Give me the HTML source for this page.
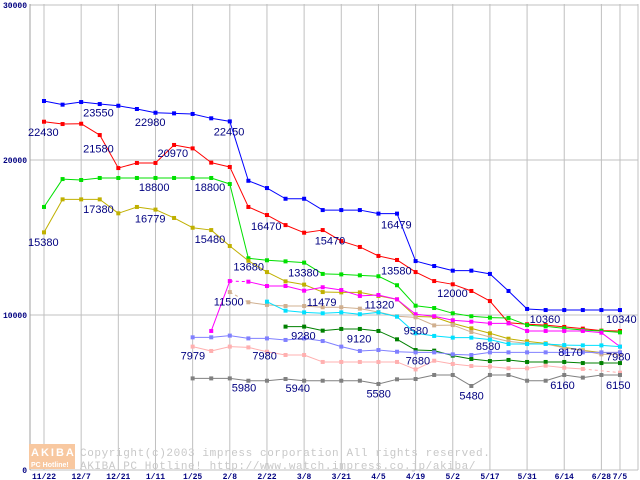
<!DOCTYPE html>
<html><head><meta charset="utf-8"><style>
html,body{margin:0;padding:0;background:#fff;}
svg{display:block;}
</style></head><body>
<svg id="chart" width="640" height="480" xmlns="http://www.w3.org/2000/svg" font-family="Liberation Sans, sans-serif">
<g id="grid"></g>
<g id="wm">
 <rect x="29" y="444" width="46" height="25" fill="#f8c8a0"/>
 <text x="31" y="456" font-size="11" font-weight="bold" fill="#fff" letter-spacing="2">AKIBA</text>
 <text x="31" y="467" font-size="7" font-weight="bold" fill="#fff">PC Hotline!</text>
 <text x="80" y="456" font-size="11" font-family="Liberation Mono, monospace" fill="#c8c8c8" letter-spacing="0.6">Copyright(c)2003 impress corporation All rights reserved.</text>
 <text x="80" y="469" font-size="11" font-family="Liberation Mono, monospace" fill="#c8c8c8" letter-spacing="0.6">AKIBA PC Hotline!  http://www.watch.impress.co.jp/akiba/</text>
</g>
<g id="series"></g>
<g id="labels"></g>
<g id="axes"></g>
</svg>
<script>
const categories = ["11/22","","12/7","","12/21","","1/11","","1/25","","2/8","","2/22","","3/8","","3/21","","4/5","","4/19","","5/2","","5/17","","5/31","","6/14","","6/28","7/5"];
const yTicks = [0,10000,20000,30000];
const N = null;
const blueVals = [23806,23570,23740,23610,23500,23290,23050,23010,22970,22690,22490,18660,18190,17500,17500,16770,16770,16770,16540,16540,13480,13160,12860,12860,12650,11550,10390,10320,10320,10320,10320,10320];
const redVals = [22470,22320,22340,21610,19480,19810,19810,20970,20750,19830,19550,16970,16450,15800,15310,15480,14770,14390,13810,13550,12770,12190,11980,11550,10900,9500,9400,9350,9230,9120,8990,8970];
const greenVals = [16970,18770,18710,18840,18840,18840,18840,18840,18840,18840,18450,13660,13530,13460,13380,12650,12620,12560,12500,11920,10600,10450,10110,9920,9830,9810,9350,9270,9140,9030,8970,8880];
const oliveVals = [15330,17460,17460,17460,16560,16970,16800,16260,15630,15480,14450,13500,12770,12170,11960,11480,11460,11460,11230,11010,9900,9870,9460,9140,8820,8470,8300,8170,7920,7720,7570,7590];
const magentaVals = [N,N,N,N,N,N,N,N,N,8970,12190,12150,11870,11870,11570,11790,11610,11230,11290,11010,10050,9920,9660,9570,9460,9460,8970,8970,8970,8970,8860,7960];
const tanVals = [N,N,N,N,N,N,N,N,N,N,11480,10820,10650,10580,10580,10500,10500,10410,10190,9920,9850,9330,9350,8900,8580,8300,8170,8130,7890,7700,7460,7460];
const cyanVals = [N,N,N,N,N,N,N,N,N,N,N,N,10860,10280,10170,10110,10170,10050,10170,9890,8820,8650,8540,8540,8410,8130,8130,8130,8060,8040,8040,7960];
const darkGreenVals = [N,N,N,N,N,N,N,N,N,N,N,N,N,9250,9250,8990,9100,9100,8970,8430,7740,7700,7380,7160,7030,7100,6970,6970,6970,6900,6900,6900];
const periVals = [N,N,N,N,N,N,N,N,8560,8560,8670,8490,8490,8390,8490,8320,7960,7680,7740,7630,7590,7590,7460,7420,7590,7590,7590,7590,7590,7590,7590,7590];
const pinkVals = [N,N,N,N,N,N,N,N,7960,7680,7960,7910,7630,7420,7420,6970,6970,6970,6970,6970,6490,7050,6840,6710,6670,6560,6560,6730,6600,6520,N,6280];
const grayVals = [N,N,N,N,N,N,N,N,5910,5910,5910,5760,5760,5870,5760,5760,5760,5760,5550,5850,5870,6130,6130,5420,6130,6130,5760,5760,6130,5960,6130,6130];
const labelTexts = ["22430","23550","21580","22980","20970","22450","15380","17380","18800","16779","18800","15480","16470","13680","15470","16479","13380","11500","11479","13580","11320","12000","10360","10340","9580","9280","9120","8580","8170","7980","7979","7980","7680","5980","5940","5580","5480","6160","6150"];
const labelIdx = [0,2,2,5,6,10,0,2,5,5,8,8,12,11,15,19,14,10,15,19,18,21,27,31,20,14,17,24,28,31,8,11,20,10,13,18,23,28,31];
const labelVals = [21560,22800,20500,22200,20200,21580,14450,16580,18000,15960,18000,14650,15500,12860,14560,15580,12500,10600,10580,12600,10420,11170,9500,9500,8740,8420,8220,7730,7360,7080,7120,7120,6800,5080,5030,4680,4560,5230,5230];
const labelDx = [-16,2,2,-2,2,-16,-16,2,2,-2,2,2,-16,-15,-8,-16,-16,-16,-16,-16,-14,3,-16,-14,-12,-13,-13,-14,-6,-14,-12,4,-10,2,0,-12,-12,-14,-14];

const X0=44, DX=18.58, Y0=470, KY=0.0155;
const xOf = i => X0 + i*DX;
const yOf = v => Y0 - v*KY;
const NS="http://www.w3.org/2000/svg";
function mk(tag, attrs, parent){const e=document.createElementNS(NS,tag);for(const k in attrs)e.setAttribute(k,attrs[k]);parent.appendChild(e);return e;}
const grid=document.getElementById('grid'), axes=document.getElementById('axes'), ser=document.getElementById('series'), lab=document.getElementById('labels');

yTicks.forEach(t=>{
  const l=mk('line',{x1:30,x2:638,y1:yOf(t),y2:yOf(t),stroke:'#c0c0c0','stroke-width':1},grid);
  
  
  const tx=mk('text',{x:27,y:yOf(t)+3,'font-size':8,'font-weight':'bold',fill:'#000080','text-anchor':'end','font-family':'Liberation Mono, monospace'},axes);
  tx.textContent=t;
  
  
});
categories.forEach((c,i)=>{
  if(c==="") return;
  const l=mk('line',{x1:xOf(i),x2:xOf(i),y1:4,y2:470,stroke:'#c0c0c0','stroke-width':1},grid);
  
  
  const tx=mk('text',{x:xOf(i),y:479,'font-size':8,'font-weight':'bold',fill:'#000080','text-anchor':'middle','font-family':'Liberation Mono, monospace'},axes);
  tx.textContent=c;
  
  
});
{const l=mk('line',{x1:638,x2:638,y1:4,y2:470,stroke:'#c0c0c0'},grid);


const a=mk('line',{x1:30,x2:30,y1:4,y2:470,stroke:'#a0a0a0'},grid);

}

const seriesList=[
 {name:'blue',vals:blueVals,color:'#0000ff',dash:[]},
 {name:'red',vals:redVals,color:'#ff0000',dash:[]},
 {name:'green',vals:greenVals,color:'#00e000',dash:[]},
 {name:'olive',vals:oliveVals,color:'#c0b000',dash:[]},
 {name:'magenta',vals:magentaVals,color:'#ff00ff',dash:[10]},
 {name:'tan',vals:tanVals,color:'#d0b090',dash:[10]},
 {name:'cyan',vals:cyanVals,color:'#00e0ff',dash:[]},
 {name:'dark-green',vals:darkGreenVals,color:'#008000',dash:[]},
 {name:'periwinkle',vals:periVals,color:'#8080ff',dash:[]},
 {name:'pink',vals:pinkVals,color:'#ffb0b0',dash:[29]},
 {name:'gray',vals:grayVals,color:'#808080',dash:[]}
];
seriesList.forEach(s=>{
  const g=mk('g',{},ser);
  
  
  let prev=-1;
  s.vals.forEach((v,i)=>{
    if(v===null) return;
    if(prev>=0){
      const dashed = s.dash.includes(prev);
      const ln=mk('line',{x1:xOf(prev),y1:yOf(s.vals[prev]),x2:xOf(i),y2:yOf(v),stroke:s.color,'stroke-width':1,'stroke-dasharray':dashed?'3,3':'none'},g);
      
      
    }
    prev=i;
  });
  s.vals.forEach((v,i)=>{
    if(v===null) return;
    if(s.dash.includes(i-1) && s.name==='pink') return;
    const r=mk('rect',{x:xOf(i)-2,y:yOf(v)-2,width:4,height:4,fill:s.color},g);
    
    
  });
});
labelTexts.forEach((t,k)=>{
  const tx=mk('text',{x:xOf(labelIdx[k])+labelDx[k],y:yOf(labelVals[k]),'font-size':11,fill:'#000080'},lab);
  tx.textContent=t;
  
  
});
</script>
</body></html>
